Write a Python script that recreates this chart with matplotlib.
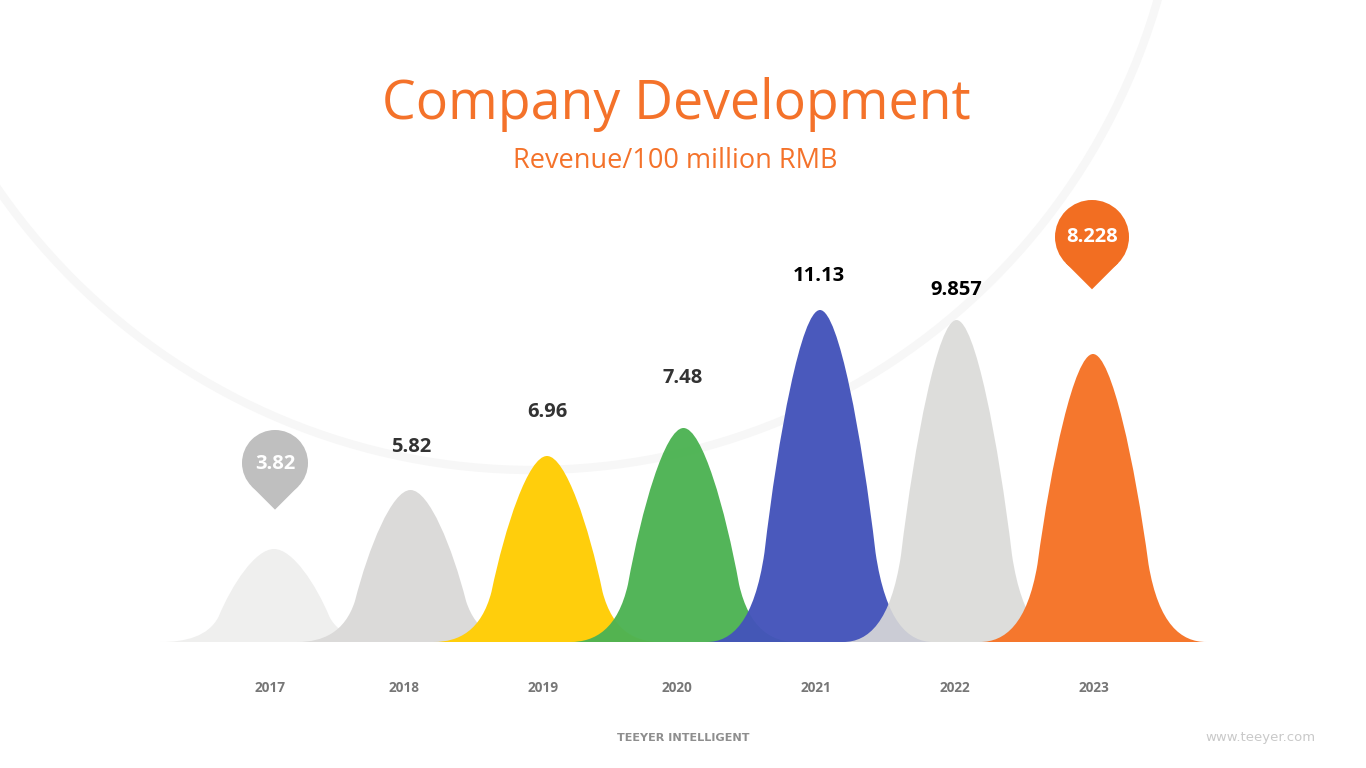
import matplotlib
matplotlib.use('Agg')
import matplotlib.pyplot as plt
from matplotlib.path import Path
from matplotlib.patches import PathPatch, Circle, Polygon

years = ['2017', '2018', '2019', '2020', '2021', '2022', '2023']
# revenue as printed on the chart
labels = ['3.82', '5.82', '6.96', '7.48', '11.13', '9.857', '8.228']
# drawn height of each hill above the baseline
heights = [93, 152, 186, 214, 332, 322, 288]

colors = ['#EFEFEE', '#DBDAD9', '#FFCE0C', '#4DB353', '#4454BA', '#DADAD8', '#F5772D']
alphas = [1, 1, 1, 0.97, 0.97, 0.9, 1]
ORANGE = '#F4722A'
PIN_ORANGE = '#F26E22'
GREY_PIN = '#BFBFBF'

W, H = 1366, 768
X0, STEP = 274, 136.5   # pixel x of first year, spacing
BASE = 642              # pixel y of the baseline
HALF = 0.83             # half width of a hill in year steps

fig = plt.figure(figsize=(W / 100, H / 100), dpi=100, facecolor='white')

# pixel axes for the decoration and the text
deco = fig.add_axes([0, 0, 1, 1])
deco.set_xlim(0, W)
deco.set_ylim(H, 0)
deco.axis('off')

# chart axes: x = year index, y = hill height
ax = fig.add_axes([0, 0, 1, 1], zorder=2)
ax.set_xlim(-X0 / STEP, (W - X0) / STEP)
ax.set_ylim(BASE - H, BASE)
ax.axis('off')
ax.patch.set_alpha(0)

deco.add_patch(Circle((533, -180), 650, fill=False, ec='#F7F7F7', lw=6))


def hill(i, h):
    u = [-1, -0.78, -0.58, -0.49, -0.37, -0.165, 0, 0.165, 0.37, 0.49, 0.58, 0.78, 1]
    v = [0, 0, 0.06, 0.27, 0.62, 1, 1, 1, 0.62, 0.27, 0.06, 0, 0]
    verts = [(i + a * HALF, b * h) for a, b in zip(u, v)]
    return Path(verts, [Path.MOVETO] + [Path.CURVE4] * 12)


for i, h in enumerate(heights):
    ax.add_patch(PathPatch(hill(i, h), fc=colors[i], ec='none', alpha=alphas[i], zorder=i + 1))


def pin(cx, cy, r, color):
    d = r * 0.707
    deco.add_patch(Circle((cx, cy), r, fc=color, ec='none', zorder=3))
    deco.add_patch(Polygon([(cx - d, cy + d), (cx, cy + 2 * d), (cx + d, cy + d), (cx, cy)],
                           fc=color, ec='none', joinstyle='round', zorder=3))


pin(275, 463, 33, GREY_PIN)
pin(1092, 237, 37, PIN_ORANGE)

deco.text(676, 104, 'Company Development', color=ORANGE, fontsize=38.6, family='Open Sans',
          ha='center', va='center')
deco.text(675, 161, 'Revenue/100 million RMB', color=ORANGE, fontsize=19.5, family='Open Sans',
          ha='center', va='center')

# value labels: pixel position, colour
label_pos = [(275, 464), (411, 447), (547, 412), (683, 378), (819, 276), (956, 290), (1092, 237)]
label_col = ['white', '#333333', '#333333', '#333333', 'black', 'black', 'white']
for t, (x, y), c in zip(labels, label_pos, label_col):
    deco.text(x, y, t, color=c, fontsize=14.5, fontweight='bold', family='Open Sans',
              ha='center', va='center', zorder=4)

year_x = [270, 404, 543, 677, 816, 955, 1094]
for t, x in zip(years, year_x):
    deco.text(x, 687.5, t, color='#777777', fontsize=9.8, fontweight='bold', family='Open Sans',
              ha='center', va='center')

deco.text(683, 738, 'TEEYER INTELLIGENT', color='#8E8E8E', fontsize=8.1, fontweight='bold',
          family='DejaVu Sans', ha='center', va='center')
deco.text(1261, 737, 'www.teeyer.com', color='#C9C9C9', fontsize=9.5, family='DejaVu Sans',
          ha='center', va='center')

fig.savefig('out.png', dpi=100)
